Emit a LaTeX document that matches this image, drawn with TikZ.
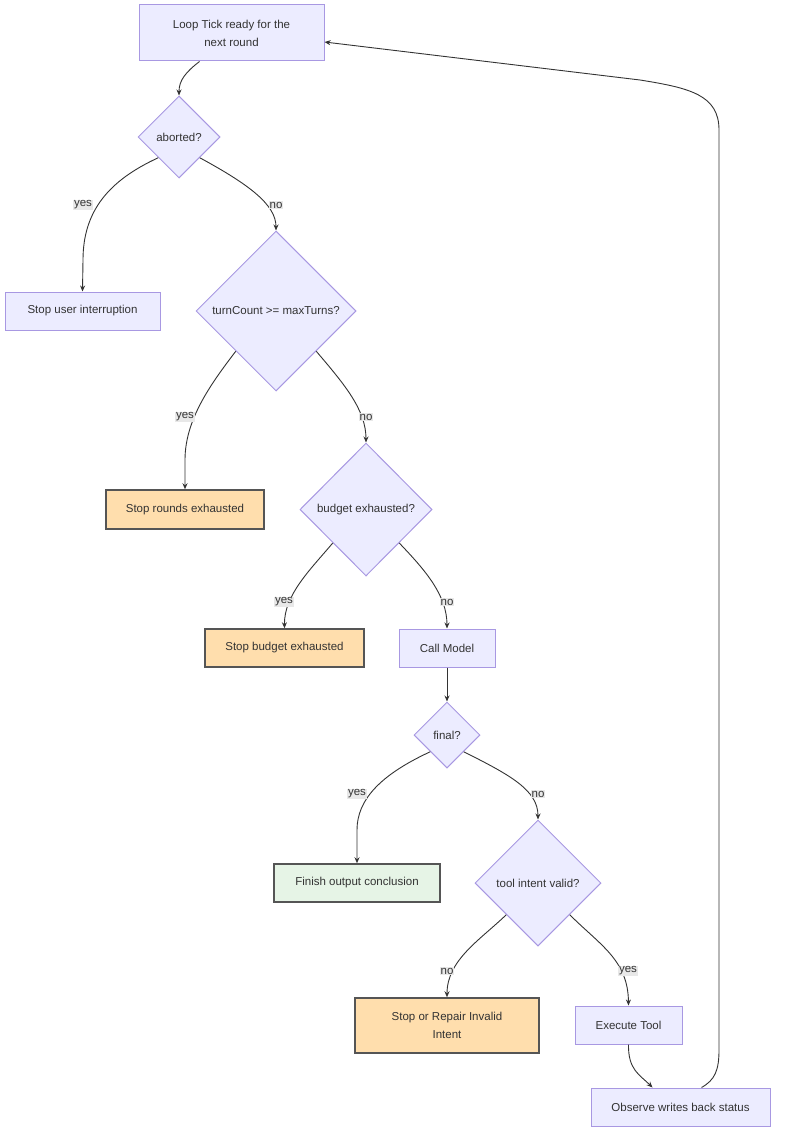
\documentclass[tikz,border=0pt]{standalone}
\usepackage{fontspec}
\setmainfont{Liberation Sans}
\usetikzlibrary{shapes.geometric,arrows.meta}
\definecolor{mfill}{HTML}{ECECFF}
\definecolor{mstroke}{HTML}{A898E2}
\definecolor{ofill}{HTML}{FFDEAD}
\definecolor{gfill}{HTML}{E6F4E6}
\definecolor{dstroke}{HTML}{555555}
\definecolor{txt}{HTML}{333333}
\definecolor{lblbg}{HTML}{E8E8E8}
\definecolor{edge}{HTML}{333333}
\begin{document}
\begin{tikzpicture}[x=1pt,y=-1pt,
  font=\fontsize{11.5}{18}\selectfont, text=txt,
  proc/.style={draw=mstroke, fill=mfill, line width=1pt, inner sep=0pt, align=center},
  stopbox/.style={draw=dstroke, fill=ofill, line width=1.5pt, inner sep=0pt, align=center},
  donebox/.style={draw=dstroke, fill=gfill, line width=1.5pt, inner sep=0pt, align=center},
  decide/.style={diamond, draw=mstroke, fill=mfill, line width=1pt, inner sep=0pt, align=center},
  lbl/.style={fill=lblbg, inner sep=1pt, font=\fontsize{11.5}{13}\selectfont},
  arr/.style={draw=edge, line width=0.9pt, -{Stealth[length=6pt,width=5pt]}}
]
\useasboundingbox (0,0) rectangle (784,1145);

\node[proc, minimum width=185, minimum height=56] (loop) at (231.5,33) {Loop Tick ready for the\\next round};
\node[decide, minimum width=82, minimum height=82] (ab) at (179,137) {aborted?};
\node[proc, minimum width=155, minimum height=38] (sui) at (82.5,311) {Stop user interruption};
\node[decide, minimum width=160, minimum height=160] (tc) at (276,311) {turnCount >= maxTurns?};
\node[stopbox, minimum width=158, minimum height=39] (sre) at (185,509.5) {Stop rounds exhausted};
\node[decide, minimum width=132, minimum height=133] (be) at (366,509.5) {budget exhausted?};
\node[stopbox, minimum width=159, minimum height=38] (sbe) at (284.5,648) {Stop budget exhausted};
\node[proc, minimum width=96, minimum height=38] (cm) at (447,648) {Call Model};
\node[decide, minimum width=66, minimum height=66] (fin) at (447,735) {final?};
\node[donebox, minimum width=166, minimum height=38] (foc) at (357,883) {Finish output conclusion};
\node[decide, minimum width=126, minimum height=126] (tiv) at (538,883) {tool intent valid?};
\node[stopbox, minimum width=184, minimum height=55] (sri) at (447,1025.5) {Stop or Repair Invalid\\Intent};
\node[proc, minimum width=107, minimum height=38] (et) at (628.5,1025) {Execute Tool};
\node[proc, minimum width=179, minimum height=38] (obs) at (680.5,1107) {Observe writes back status};

% edges
\draw[arr] ([xshift=-32pt]loop.south) .. controls (186,72) and (179,80) .. (ab.north);

\draw[arr] (ab.south west) .. controls (110,180) and (83,210) .. (83,260) -- (sui.north);
\node[lbl] (l1) at (83,205) {yes};
\draw[arr] (ab.south east) .. controls (250,185) and (276,205) .. (tc.north);
\node[lbl] (l2) at (276,205) {no};

\draw[arr] (tc.south west) .. controls (210,385) and (185,420) .. (185,460) -- (sre.north);
\node[lbl] (l3) at (185,417) {yes};
\draw[arr] (tc.south east) .. controls (345,385) and (366,410) .. (be.north);
\node[lbl] (l4) at (366,417) {no};

\draw[arr] (be.south west) .. controls (310,570) and (284,595) .. (sbe.north);
\node[lbl] (l5) at (284,602) {yes};
\draw[arr] (be.south east) .. controls (425,570) and (447,595) .. (cm.north);
\node[lbl] (l6) at (447,602) {no};

\draw[arr] (cm.south) -- (fin.north);

\draw[arr] (fin.south west) .. controls (380,775) and (357,800) .. (357,830) -- (foc.north);
\node[lbl] (l7) at (357,794) {yes};
\draw[arr] (fin.south east) .. controls (510,775) and (538,790) .. (tiv.north);
\node[lbl] (l8) at (538,794) {no};

\draw[arr] (tiv.south west) .. controls (480,940) and (447,960) .. (sri.north);
\node[lbl] (l9) at (447,971) {no};
\draw[arr] (tiv.south east) .. controls (600,945) and (628,960) .. (et.north);
\node[lbl] (l10) at (628,971) {yes};

\draw[arr] (et.south) .. controls (628,1070) and (640,1075) .. ([xshift=-28pt]obs.north);

\coordinate (r1) at (719,1050);
\coordinate (r2) at (719,130);
\draw[arr] ([xshift=21pt]obs.north) .. controls (715,1080) and (719,1070) .. (r1) -- (r2)
   .. controls (719,95) and (690,88) .. (640,80) -- ([yshift=-9pt]loop.east);
\end{tikzpicture}
\end{document}
